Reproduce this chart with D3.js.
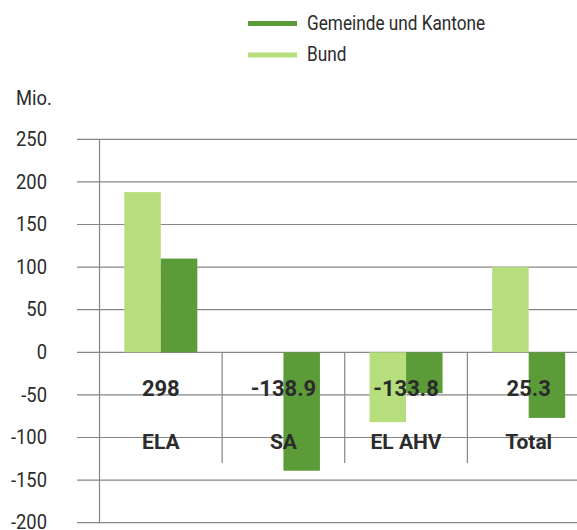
<!DOCTYPE html>
<html><head><meta charset="utf-8">
<script src="https://cdn.jsdelivr.net/npm/d3@7"></script>
<style>
body{margin:0;background:#fff;}
svg{display:block;}
</style></head>
<body>
<svg id="chart" width="577" height="530"></svg>
<script>
const categories = ["ELA", "SA", "EL AHV", "Total"];
const bund = [188, 0, -82, 100];
const gemeinde = [110, -139, -48, -77];
const totalLabels = ["298", "-138.9", "-133.8", "25.3"];
const yTicks = [250, 200, 150, 100, 50, 0, -50, -100, -150, -200];
const seriesNames = ["Gemeinde und Kantone", "Bund"];

const lightGreen = "#b7de7c";
const darkGreen = "#5c9c38";
const gridColor = "#858585";
const textColor = "#2b2b2b";
const regFont = "Roboto, 'Liberation Sans', sans-serif";
const boldFont = "Roboto, 'Liberation Sans', sans-serif";

const svg = d3.select("#chart");

const y = d3.scaleLinear().domain([-200, 250]).range([522.7, 139.3]);
const x = d3.scaleBand().domain(categories).range([99.5, 590]);
const barW = 36.5;
const sub = d3.scaleBand().domain(["Bund", "Gemeinde"]).range([-barW, barW]);

// gridlines
svg.append("g").selectAll("line").data(yTicks).join("line")
  .attr("x1", 77).attr("x2", 577)
  .attr("y1", d => y(d)).attr("y2", d => y(d))
  .attr("stroke", gridColor).attr("stroke-width", 1.2);

// y axis labels
svg.append("g").selectAll("text").data(yTicks).join("text")
  .attr("transform", d => `translate(47,${y(d)}) scale(0.92,1)`)
  .attr("text-anchor", "end").attr("dominant-baseline", "central")
  .attr("font-family", regFont).attr("font-size", 20).attr("fill", textColor)
  .text(d => d);

svg.append("text").attr("transform", "translate(16,98) scale(0.92,1)")
  .attr("dominant-baseline", "central")
  .attr("font-family", regFont).attr("font-size", 20).attr("fill", textColor)
  .text("Mio.");

// vertical axis line
svg.append("line").attr("x1", 99.5).attr("x2", 99.5)
  .attr("y1", y(250)).attr("y2", y(-200))
  .attr("stroke", gridColor).attr("stroke-width", 1.2);

// category dividers
svg.append("g").selectAll("line").data(categories.slice(1)).join("line")
  .attr("x1", d => x(d)).attr("x2", d => x(d))
  .attr("y1", y(0)).attr("y2", y(-130))
  .attr("stroke", gridColor).attr("stroke-width", 1.2);

// bars
const barData = [];
categories.forEach((c, i) => {
  barData.push({c, k: "Bund", v: bund[i]});
  barData.push({c, k: "Gemeinde", v: gemeinde[i]});
});
svg.append("g").selectAll("rect").data(barData.filter(d => d.v !== 0)).join("rect")
  .attr("x", d => x(d.c) + x.bandwidth() / 2 + sub(d.k))
  .attr("width", sub.bandwidth())
  .attr("y", d => y(Math.max(0, d.v)))
  .attr("height", d => Math.abs(y(d.v) - y(0)))
  .attr("fill", d => d.k === "Bund" ? lightGreen : darkGreen);

// total labels
svg.append("g").selectAll("text").data(totalLabels).join("text")
  .attr("x", (d, i) => x(categories[i]) + x.bandwidth() / 2)
  .attr("y", y(-42))
  .attr("text-anchor", "middle").attr("dominant-baseline", "central")
  .attr("font-family", boldFont).attr("font-weight", "bold").attr("font-size", 22)
  .attr("fill", textColor)
  .text(d => d);

// category labels
svg.append("g").selectAll("text").data(categories).join("text")
  .attr("x", d => x(d) + x.bandwidth() / 2)
  .attr("y", y(-105))
  .attr("text-anchor", "middle").attr("dominant-baseline", "central")
  .attr("font-family", boldFont).attr("font-weight", "bold").attr("font-size", 21)
  .attr("fill", textColor)
  .text(d => d);

// legend
const legY = [23.5, 55];
const legColors = [darkGreen, lightGreen];
const leg = svg.append("g");
seriesNames.forEach((n, i) => {
  leg.append("line").attr("x1", 248).attr("x2", 297)
    .attr("y1", legY[i]).attr("y2", legY[i])
    .attr("stroke", legColors[i]).attr("stroke-width", 5);
  leg.append("text").attr("transform", `translate(307,${legY[i]}) scale(0.86,1)`)
    .attr("dominant-baseline", "central")
    .attr("font-family", regFont).attr("font-size", 20).attr("fill", textColor)
    .text(n);
});
</script>
</body></html>
